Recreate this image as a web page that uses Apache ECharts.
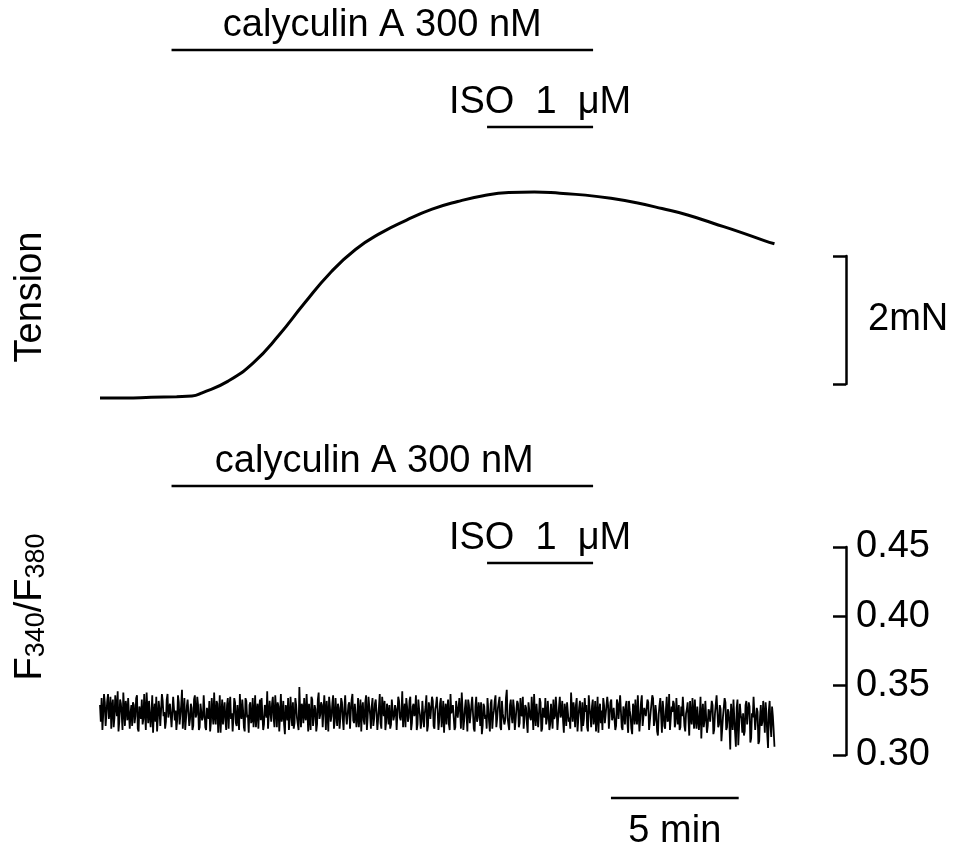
<!DOCTYPE html>
<html>
<head>
<meta charset="utf-8">
<script src="https://cdn.jsdelivr.net/npm/echarts@6/dist/echarts.min.js"></script>
<style>
  html, body { margin: 0; padding: 0; background: #fff; }
  #chart { width: 953px; height: 856px; }
</style>
</head>
<body>
<div id="chart"></div>
<script>
// Tension trace (min, mN above baseline)
const tensionTime = [0, 1, 2, 3, 3.6, 4, 5, 6, 7, 8, 9, 10, 11, 12, 13, 14, 15, 16, 17, 18, 19, 20, 21, 22, 23, 24, 25, 26, 26.4];
const tensionValue = [0, 0, 0.01, 0.02, 0.03, 0.08, 0.26, 0.55, 0.98, 1.48, 1.95, 2.32, 2.58, 2.78, 2.95, 3.07, 3.16, 3.21, 3.22, 3.2, 3.17, 3.12, 3.05, 2.96, 2.86, 2.73, 2.6, 2.46, 2.41];

// F340/F380 trace, thousandths, evenly sampled over ratioDuration minutes
const ratioDuration = 26.4;
const ratioValues = [
  336,324,341,318,329,344,338,321,322,339,344,326,331,342,319,335,340,320,327,343,335,328,346,317,324,340,337,329,318,345,333,321,339,334,325,341,342,319,330,336,
  321,338,336,323,328,341,343,319,317,335,334,326,340,322,326,344,331,318,345,333,323,339,338,320,329,343,316,330,337,324,342,317,327,339,333,321,320,344,339,328,
  331,319,324,340,344,327,328,337,336,320,319,342,341,325,332,318,325,343,338,322,322,336,347,319,330,341,318,326,335,340,340,321,326,337,334,318,321,340,343,327,
  329,342,336,318,320,337,338,325,327,343,342,320,318,334,333,326,339,317,324,341,330,322,345,328,322,339,337,316,328,343,316,329,340,322,331,338,325,318,336,341,
  319,334,342,326,330,317,327,341,338,323,321,336,335,318,344,329,326,340,332,320,317,341,339,327,329,316,336,338,323,325,341,320,328,343,320,331,337,319,333,340,
  325,341,340,318,322,336,334,327,346,319,318,339,331,324,337,342,327,320,343,333,320,338,335,317,329,344,324,328,339,322,315,336,333,325,341,318,326,342,330,321,
  338,319,323,341,336,327,328,318,349,331,320,337,334,323,341,328,325,344,331,317,337,326,318,342,340,321,327,336,333,317,322,340,345,326,329,338,336,320,321,343,
  332,318,339,330,317,342,335,324,328,337,343,319,324,341,330,321,337,334,319,327,341,338,326,318,334,343,329,322,322,336,338,319,331,340,344,325,323,337,336,320,
  327,341,320,329,340,317,333,338,325,322,338,343,318,327,342,335,329,319,335,341,321,326,337,340,330,318,326,335,344,323,319,342,334,328,339,318,324,337,331,322,
  336,319,322,340,341,325,328,336,333,318,317,342,339,327,325,331,346,320,330,337,320,341,335,324,327,339,342,318,323,335,337,328,331,343,318,322,340,333,329,319,
  324,339,338,320,330,335,343,317,321,338,334,326,327,342,339,321,319,333,336,342,332,318,325,337,341,320,328,339,316,331,337,322,333,340,322,318,344,330,329,336,
  335,318,320,339,339,327,326,341,331,319,345,333,318,325,334,340,328,317,340,336,323,329,336,342,330,319,317,335,342,324,327,338,333,321,338,315,321,337,335,326,
  329,319,341,333,324,317,337,340,319,328,332,339,343,320,326,334,335,342,320,318,339,330,331,322,325,341,347,327,322,318,336,340,328,323,340,334,318,325,333,339,
  337,320,323,341,330,328,342,319,327,336,334,323,316,338,339,327,325,342,331,318,344,329,321,337,336,320,329,341,338,317,319,334,333,327,341,322,326,339,330,318,
  322,337,336,319,340,326,328,342,333,318,318,335,342,327,330,339,325,316,337,332,321,338,339,324,327,319,345,333,324,338,332,320,336,341,317,326,334,339,329,317,
  338,321,326,341,331,336,320,317,343,334,329,320,335,340,322,327,339,317,327,342,316,331,337,323,332,318,341,336,323,329,330,342,336,319,319,338,340,325,328,334,
  333,318,321,340,337,326,325,343,342,320,318,335,331,322,336,339,324,316,339,332,328,319,315,337,334,322,340,327,322,343,330,317,326,338,343,321,320,334,335,328,
  327,340,338,318,319,331,332,343,341,321,325,336,330,317,314,329,336,341,328,316,339,332,321,319,333,342,324,326,344,318,318,335,331,339,337,320,323,341,329,322,
  336,318,320,335,328,342,341,321,317,330,333,338,326,314,339,327,322,341,330,319,340,326,319,335,334,318,327,342,312,329,337,320,325,339,340,316,321,333,331,324,
  324,339,336,315,318,330,329,343,342,320,322,336,333,310,309,328,327,341,338,318,320,333,331,322,304,337,328,318,340,327,316,306,334,340,307,321,337,329,326,316,
  330,314,317,336,339,322,321,338,335,309,312,330,327,342,341,318,319,334,331,308,310,327,336,321,324,339,329,316,338,330,315,305,332,339,322,313,335,328,318,306
];

// Drug application periods (min) and labels
const calyculinPeriod = [2.8, 19.3];
const isoPeriod = [15.15, 19.3];
const calyculinLabel = "calyculin A 300 nM";
const isoLabel = "ISO  1  \u03bcM";

// Scale bars
const timeScaleBar = [20, 25];
const timeScaleLabel = "5 min";
const tensionScaleBar = [0, 2];
const tensionScaleLabel = "2mN";
const ratioTicks = { min: 0.3, max: 0.45, interval: 0.05 };

const FONT = '"Liberation Sans", Arial, sans-serif';
const FS = 38;
const X_MAX = 29.2;

const tensionData = tensionTime.map((t, i) => [t, tensionValue[i]]);
const ratioStep = ratioDuration / (ratioValues.length - 1);
const ratioData = ratioValues.map((v, i) => [i * ratioStep, v / 1000]);

// grid rows: 0 tension, 1 tension scale, 2 ratio, 3-7 annotation rows
const gridTops = [
  { top: 174, height: 256 },
  { top: 256, height: 128 },
  { top: 547, height: 208 },
  { top: 40, height: 10 },
  { top: 117, height: 10 },
  { top: 476, height: 10 },
  { top: 553, height: 10 },
  { top: 788, height: 10 }
];

function barSeries(gridIndex, period, label, below, dx) {
  return {
    type: "custom",
    xAxisIndex: gridIndex,
    yAxisIndex: gridIndex,
    data: [[period[0], period[1]]],
    silent: true,
    renderItem: function (params, api) {
      const p0 = api.coord([api.value(0), 0]);
      const p1 = api.coord([api.value(1), 0]);
      return {
        type: "group",
        children: [
          {
            type: "line",
            shape: { x1: p0[0], y1: p0[1], x2: p1[0], y2: p1[1] },
            style: { stroke: "#000", lineWidth: 2.5 }
          },
          {
            type: "text",
            style: {
              text: label,
              x: (p0[0] + p1[0]) / 2 + (dx || 0),
              y: below ? p0[1] + 15 : p0[1] - 5,
              align: "center",
              verticalAlign: below ? "top" : "bottom",
              font: FS + "px " + FONT,
              fill: "#000"
            }
          }
        ]
      };
    }
  };
}

const option = {
  animation: false,
  backgroundColor: "#fff",
  grid: gridTops.map(g => ({ left: 100, right: 107, top: g.top, height: g.height })),
  xAxis: gridTops.map((g, i) => ({
    type: "value", gridIndex: i, min: 0, max: X_MAX, show: false
  })),
  yAxis: [
    { type: "value", gridIndex: 0, min: -0.5, max: 3.5, show: false },
    {
      type: "value", gridIndex: 1, position: "right",
      min: tensionScaleBar[0], max: tensionScaleBar[1], interval: 2,
      axisLine: { show: true, onZero: false, lineStyle: { color: "#000", width: 2.5 } },
      axisTick: { show: true, inside: true, length: 13, lineStyle: { color: "#000", width: 2.5 } },
      axisLabel: { show: false },
      splitLine: { show: false },
      name: tensionScaleLabel, nameLocation: "middle", nameRotate: 0, nameGap: 22,
      nameTextStyle: { fontSize: FS, fontFamily: FONT, color: "#000", align: "left" }
    },
    {
      type: "value", gridIndex: 2, position: "right",
      min: ratioTicks.min, max: ratioTicks.max, interval: ratioTicks.interval,
      axisLine: { show: true, onZero: false, lineStyle: { color: "#000", width: 2.5 } },
      axisTick: { show: true, inside: true, length: 13, lineStyle: { color: "#000", width: 2.5 } },
      axisLabel: {
        margin: 10, fontSize: FS, fontFamily: FONT, color: "#000",
        formatter: v => v.toFixed(2)
      },
      splitLine: { show: false }
    },
    ...[3, 4, 5, 6, 7].map(i => ({ type: "value", gridIndex: i, min: 0, max: 1, show: false }))
  ],
  graphic: [
    {
      type: "text", x: 31, y: 297, rotation: Math.PI / 2,
      style: { text: "Tension", align: "center", verticalAlign: "middle", font: FS + "px " + FONT, fill: "#000" }
    },
    {
      type: "text", x: 30, y: 607, rotation: Math.PI / 2,
      style: {
        text: "{b|F}{s|340}{b|/F}{s|380}",
        align: "center", verticalAlign: "middle",
        rich: {
          b: { fontSize: FS, fontFamily: FONT, fill: "#000", verticalAlign: "bottom", lineHeight: 40 },
          s: { fontSize: 27, fontFamily: FONT, fill: "#000", verticalAlign: "bottom", lineHeight: 40 }
        }
      }
    }
  ],
  series: [
    {
      type: "line", xAxisIndex: 0, yAxisIndex: 0, data: tensionData,
      showSymbol: false, smooth: 0.5,
      lineStyle: { color: "#000", width: 3 }, silent: true
    },
    {
      type: "line", xAxisIndex: 2, yAxisIndex: 2, data: ratioData,
      showSymbol: false, lineStyle: { color: "#000", width: 1.8, join: "bevel" }, silent: true
    },
    barSeries(3, calyculinPeriod, calyculinLabel, false),
    barSeries(4, isoPeriod, isoLabel, false),
    barSeries(5, calyculinPeriod, calyculinLabel, false, -8),
    barSeries(6, isoPeriod, isoLabel, false),
    barSeries(7, timeScaleBar, timeScaleLabel, true)
  ]
};

const chart = echarts.init(document.getElementById("chart"));
chart.setOption(option);
</script>
</body>
</html>
